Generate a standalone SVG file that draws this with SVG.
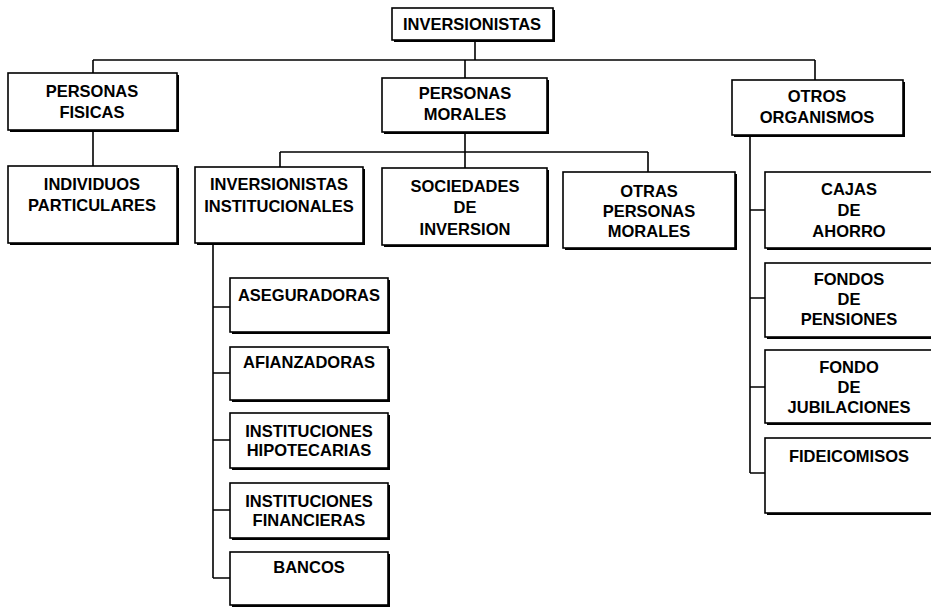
<svg xmlns="http://www.w3.org/2000/svg" width="931" height="608" viewBox="0 0 931 608">
<style>
  .bg{fill:#fff}
  .sh{fill:#000}
  .bx{fill:#fff;stroke:#000;stroke-width:1.6}
  .t{font-family:"Liberation Sans",Arial,Helvetica,sans-serif;font-size:16.5px;font-weight:bold;fill:#000;text-anchor:middle}
  .c{fill:none;stroke:#000;stroke-width:1.6}
</style>
<rect class="bg" x="0" y="0" width="931" height="608"/>
<g id="connectors">
  <path class="c" d="M475 40V60M93 60H815M93 60V73M465 60V78M815 60V80"/>
  <path class="c" d="M93 130V166"/>
  <path class="c" d="M465 132V152M280 152H648M280 152V167M465 152V168M648 152V172"/>
  <path class="c" d="M213 243V578M213 307H230M213 373H230M213 440H230M213 510H230M213 578H230"/>
  <path class="c" d="M750 135V473M750 210H765M750 298H765M750 387H765M750 473H765"/>
</g>
<g id="n-inversionistas">
  <rect class="sh" x="394" y="10" width="161" height="32"/>
  <rect class="bx" x="392" y="8" width="161" height="32"/>
  <text class="t" x="472" y="30">INVERSIONISTAS</text>
</g>
<g id="n-personas-fisicas">
  <rect class="sh" x="10" y="75" width="169" height="57"/>
  <rect class="bx" x="8" y="73" width="169" height="57"/>
  <text class="t" x="92" y="97">PERSONAS</text>
  <text class="t" x="92" y="118">FISICAS</text>
</g>
<g id="n-individuos">
  <rect class="sh" x="10" y="168" width="169" height="77"/>
  <rect class="bx" x="8" y="166" width="169" height="77"/>
  <text class="t" x="92" y="190">INDIVIDUOS</text>
  <text class="t" x="92" y="211">PARTICULARES</text>
</g>
<g id="n-personas-morales">
  <rect class="sh" x="384" y="80" width="165" height="54"/>
  <rect class="bx" x="382" y="78" width="165" height="54"/>
  <text class="t" x="465" y="99">PERSONAS</text>
  <text class="t" x="465" y="120">MORALES</text>
</g>
<g id="n-otros-organismos">
  <rect class="sh" x="734" y="82" width="171" height="55"/>
  <rect class="bx" x="732" y="80" width="171" height="55"/>
  <text class="t" x="817" y="102">OTROS</text>
  <text class="t" x="817" y="123">ORGANISMOS</text>
</g>
<g id="n-inv-institucionales">
  <rect class="sh" x="197" y="169" width="168" height="76"/>
  <rect class="bx" x="195" y="167" width="168" height="76"/>
  <text class="t" x="279" y="190">INVERSIONISTAS</text>
  <text class="t" x="279" y="212">INSTITUCIONALES</text>
</g>
<g id="n-sociedades">
  <rect class="sh" x="384" y="170" width="165" height="77"/>
  <rect class="bx" x="382" y="168" width="165" height="77"/>
  <text class="t" x="465" y="192">SOCIEDADES</text>
  <text class="t" x="465" y="213">DE</text>
  <text class="t" x="465" y="235">INVERSION</text>
</g>
<g id="n-otras-personas">
  <rect class="sh" x="565" y="174" width="172" height="76"/>
  <rect class="bx" x="563" y="172" width="172" height="76"/>
  <text class="t" x="649" y="197">OTRAS</text>
  <text class="t" x="649" y="217">PERSONAS</text>
  <text class="t" x="649" y="237">MORALES</text>
</g>
<g id="n-cajas">
  <rect class="sh" x="767" y="174" width="168" height="76"/>
  <rect class="bx" x="765" y="172" width="168" height="76"/>
  <text class="t" x="849" y="195">CAJAS</text>
  <text class="t" x="849" y="216">DE</text>
  <text class="t" x="849" y="237">AHORRO</text>
</g>
<g id="n-fondos-pensiones">
  <rect class="sh" x="767" y="265" width="168" height="74"/>
  <rect class="bx" x="765" y="263" width="168" height="74"/>
  <text class="t" x="849" y="285">FONDOS</text>
  <text class="t" x="849" y="305">DE</text>
  <text class="t" x="849" y="325">PENSIONES</text>
</g>
<g id="n-fondo-jubilaciones">
  <rect class="sh" x="767" y="352" width="168" height="73"/>
  <rect class="bx" x="765" y="350" width="168" height="73"/>
  <text class="t" x="849" y="373">FONDO</text>
  <text class="t" x="849" y="393">DE</text>
  <text class="t" x="849" y="413">JUBILACIONES</text>
</g>
<g id="n-fideicomisos">
  <rect class="sh" x="767" y="440" width="168" height="75"/>
  <rect class="bx" x="765" y="438" width="168" height="75"/>
  <text class="t" x="849" y="462">FIDEICOMISOS</text>
</g>
<g id="n-aseguradoras">
  <rect class="sh" x="232" y="280" width="158" height="54"/>
  <rect class="bx" x="230" y="278" width="158" height="54"/>
  <text class="t" x="309" y="301">ASEGURADORAS</text>
</g>
<g id="n-afianzadoras">
  <rect class="sh" x="232" y="349" width="158" height="53"/>
  <rect class="bx" x="230" y="347" width="158" height="53"/>
  <text class="t" x="309" y="368">AFIANZADORAS</text>
</g>
<g id="n-hipotecarias">
  <rect class="sh" x="232" y="415" width="158" height="55"/>
  <rect class="bx" x="230" y="413" width="158" height="55"/>
  <text class="t" x="309" y="437">INSTITUCIONES</text>
  <text class="t" x="309" y="456">HIPOTECARIAS</text>
</g>
<g id="n-financieras">
  <rect class="sh" x="232" y="485" width="158" height="55"/>
  <rect class="bx" x="230" y="483" width="158" height="55"/>
  <text class="t" x="309" y="507">INSTITUCIONES</text>
  <text class="t" x="309" y="526">FINANCIERAS</text>
</g>
<g id="n-bancos">
  <rect class="sh" x="232" y="554" width="158" height="53"/>
  <rect class="bx" x="230" y="552" width="158" height="53"/>
  <text class="t" x="309" y="573">BANCOS</text>
</g>
</svg>
